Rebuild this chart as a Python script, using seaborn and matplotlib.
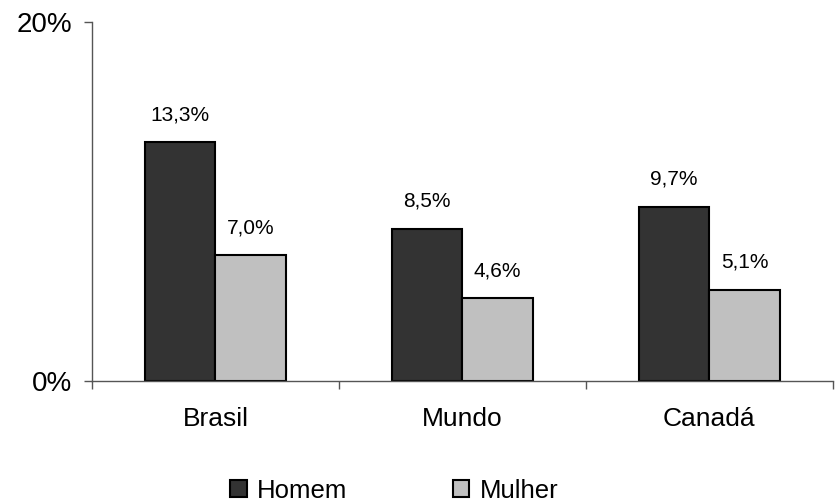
import pandas as pd
import numpy as np
import seaborn as sns
import matplotlib.pyplot as plt
from matplotlib.ticker import FuncFormatter
from matplotlib.patches import Patch

# data
categorias = ['Brasil', 'Mundo', 'Canadá']
homem = [13.3, 8.5, 9.7]
mulher = [7.0, 4.6, 5.1]

df = pd.DataFrame({
    'categoria': categorias * 2,
    'sexo': ['Homem'] * 3 + ['Mulher'] * 3,
    'valor': homem + mulher,
})

sns.set_style('white')
plt.rcParams['font.family'] = ['Liberation Sans', 'DejaVu Sans']
plt.rcParams['text.color'] = 'black'
plt.rcParams['xtick.color'] = 'black'
plt.rcParams['ytick.color'] = 'black'

fig = plt.figure(figsize=(8.4, 5.04), dpi=100)
ax = fig.add_axes([0.1095, 0.244, 0.882, 0.712])

sns.barplot(data=df, x='categoria', y='valor', hue='sexo',
            palette=['#333333', '#c0c0c0'], width=0.57,
            edgecolor='black', linewidth=1.5, ax=ax, legend=False)

# value labels
for cont in ax.containers:
    ax.bar_label(cont, labels=[f'{v:.1f}%'.replace('.', ',') for v in cont.datavalues],
                 padding=13, fontsize=15)

ax.set_ylim(0, 20)
ax.set_xlim(-0.5, 2.5)
ax.set_yticks([0, 20])
ax.yaxis.set_major_formatter(FuncFormatter(lambda v, p: f'{v:.0f}%'))
ax.set_xticks([0, 1, 2])
ax.set_xticklabels(categorias)
ax.set_xticks([-0.5, 0.5, 1.5, 2.5], minor=True)
ax.tick_params(axis='x', which='major', bottom=False, labelsize=19, pad=15)
ax.tick_params(axis='x', which='minor', bottom=True, length=6, width=1,
               color='#555555', direction='out')
ax.tick_params(axis='y', left=True, length=6, width=1, color='#555555',
               direction='out', labelsize=20, pad=8)
ax.set_xlabel('')
ax.set_ylabel('')
for s in ['top', 'right']:
    ax.spines[s].set_visible(False)
for s in ['left', 'bottom']:
    ax.spines[s].set_color('#555555')
    ax.spines[s].set_linewidth(1)

# legend
handles = [Patch(facecolor='#333333', edgecolor='black', linewidth=1.5, label='Homem'),
           Patch(facecolor='#c0c0c0', edgecolor='black', linewidth=1.5, label='Mulher')]
fig.legend(handles=handles, loc='center', bbox_to_anchor=(0.469, 0.026), ncol=2,
           frameon=False, fontsize=18.5, handlelength=0.65, handleheight=0.65,
           handletextpad=0.4, columnspacing=4.1, borderpad=0)

fig.savefig('out.png', dpi=100)
